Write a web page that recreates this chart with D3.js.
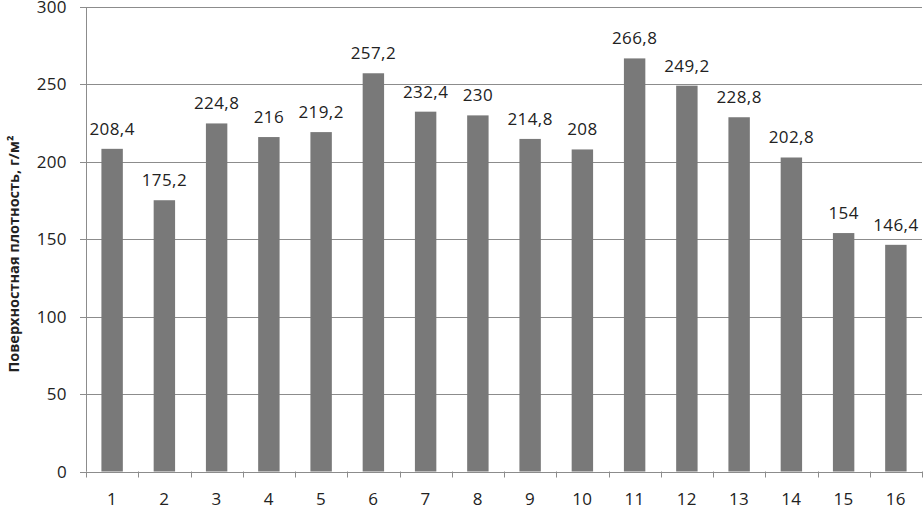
<!DOCTYPE html>
<html>
<head>
<meta charset="utf-8">
<script src="https://cdn.jsdelivr.net/npm/d3@7"></script>
<style>
body { margin: 0; background: #fff; }
text { font-family: "Open Sans", sans-serif; fill: #222; }
</style>
</head>
<body>
<div id="chart"></div>
<script>
var w = 923;
var h = 509;

var samples = ["1","2","3","4","5","6","7","8","9","10","11","12","13","14","15","16"];
var density = [208.4, 175.2, 224.8, 216, 219.2, 257.2, 232.4, 230, 214.8, 208, 266.8, 249.2, 228.8, 202.8, 154, 146.4];
var yTicks = [0, 50, 100, 150, 200, 250, 300];
var yTitle = "Поверхностная плотность, г/м²";

var padLeft = 86, padRight = 922, padTop = 7, padBottom = 471.5;

var xScale = d3.scaleBand()
    .domain(samples)
    .range([padLeft, padRight])
    .paddingInner(0.59)
    .paddingOuter(0.295);

var yScale = d3.scaleLinear()
    .domain([0, 300])
    .range([padBottom, padTop]);

var svg = d3.select("#chart")
    .append("svg")
    .attr("width", w)
    .attr("height", h);

// gridlines
svg.selectAll("line.grid")
    .data(yTicks)
    .enter()
    .append("line")
    .attr("class", "grid")
    .attr("x1", padLeft - 6)
    .attr("x2", padRight)
    .attr("y1", function(d) { return Math.round(yScale(d)) + 0.5; })
    .attr("y2", function(d) { return Math.round(yScale(d)) + 0.5; })
    .attr("stroke", "#8c8c8c")
    .attr("stroke-width", 1);

// y axis line
svg.append("line")
    .attr("x1", padLeft + 0.5)
    .attr("x2", padLeft + 0.5)
    .attr("y1", Math.round(yScale(300)))
    .attr("y2", padBottom)
    .attr("stroke", "#8c8c8c");

// y tick labels
svg.selectAll("text.ylab")
    .data(yTicks)
    .enter()
    .append("text")
    .attr("class", "ylab")
    .attr("x", 67)
    .attr("y", function(d) { return yScale(d) + 6; })
    .attr("text-anchor", "end")
    .style("font-size", "17px")
    .style("letter-spacing", "0.4px")
    .text(function(d) { return d; });

// x ticks between categories
var step = xScale.step();
var xTickPos = d3.range(samples.length + 1).map(function(i) { return padLeft + i * step; });
svg.selectAll("line.xtick")
    .data(xTickPos)
    .enter()
    .append("line")
    .attr("class", "xtick")
    .attr("x1", function(d) { return Math.round(d) + 0.5; })
    .attr("x2", function(d) { return Math.round(d) + 0.5; })
    .attr("y1", padBottom)
    .attr("y2", padBottom + 6)
    .attr("stroke", "#8c8c8c");

// bars
svg.selectAll("rect")
    .data(density)
    .enter()
    .append("rect")
    .attr("x", function(d, i) { return xScale(samples[i]); })
    .attr("y", function(d) { return yScale(d); })
    .attr("width", xScale.bandwidth())
    .attr("height", function(d) { return yScale(0) - yScale(d); })
    .attr("fill", "#797979");

// value labels
svg.selectAll("text.val")
    .data(density)
    .enter()
    .append("text")
    .attr("class", "val")
    .attr("x", function(d, i) { return xScale(samples[i]) + xScale.bandwidth() / 2; })
    .attr("y", function(d) { return yScale(d) - 14; })
    .attr("text-anchor", "middle")
    .style("font-size", "17px")
    .style("letter-spacing", "0.4px")
    .text(function(d) { return String(d).replace(".", ","); });

// x labels
svg.selectAll("text.xlab")
    .data(samples)
    .enter()
    .append("text")
    .attr("class", "xlab")
    .attr("x", function(d) { return xScale(d) + xScale.bandwidth() / 2; })
    .attr("y", 505)
    .attr("text-anchor", "middle")
    .style("font-size", "17px")
    .style("letter-spacing", "0.4px")
    .text(function(d) { return d; });

// y title
svg.append("text")
    .attr("transform", "translate(19," + 254 + ") rotate(-90)")
    .attr("text-anchor", "middle")
    .style("font-size", "14.5px")
    .style("font-weight", "bold")
    .text(yTitle);
</script>
</body>
</html>
